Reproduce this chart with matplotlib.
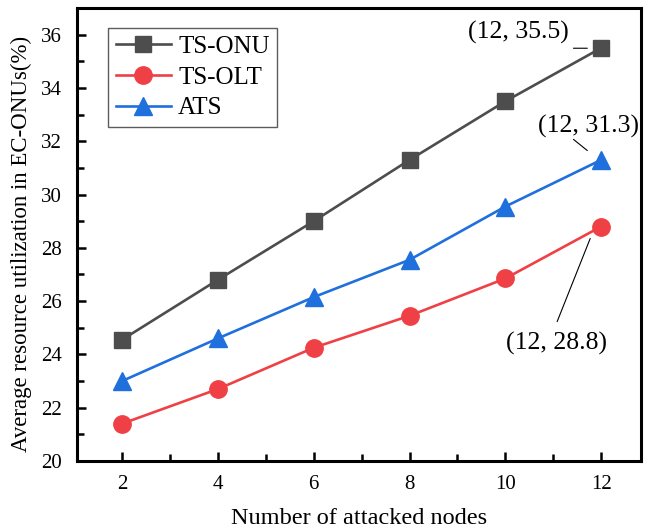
import matplotlib.pyplot as plt
from matplotlib.ticker import MultipleLocator

plt.rcParams['font.family'] = ['Liberation Serif', 'DejaVu Serif']

# Daten
nodes = [2, 4, 6, 8, 10, 12]
ts_onu = [24.55, 26.8, 29.0, 31.3, 33.5, 35.5]
ts_olt = [21.4, 22.7, 24.25, 25.45, 26.85, 28.8]
ats = [23.0, 24.6, 26.15, 27.55, 29.55, 31.3]

# Beschriftungen: Text, Textposition, Anfang und Ende der Hinweislinie
notes = [
    ('(12, 35.5)', (10.27, 36.1), (11.42, 35.49), (11.71, 35.49)),
    ('(12, 31.3)', (11.73, 32.56), (11.42, 32.07), (11.71, 31.65)),
    ('(12, 28.8)', (11.06, 24.4), (11.08, 25.23), (11.77, 28.35)),
]

fig = plt.figure(figsize=(6.56, 5.29), dpi=100)
ax = fig.add_axes([77 / 656, 1 - 461 / 529, (641 - 77) / 656, (461 - 8) / 529])

ax.plot(nodes, ts_onu, color='#4d4d4d', marker='s', markersize=12, lw=1.9, label='TS-ONU')
ax.plot(nodes, ts_olt, color='#ef4045', marker='o', markersize=12.5, lw=1.9, label='TS-OLT')
ax.plot(nodes, ats, color='#1f6fdc', marker='^', markersize=12.5, lw=1.9, label='ATS')

ax.set_xlim(1.06, 12.83)
ax.set_ylim(20, 37)
ax.xaxis.set_major_locator(MultipleLocator(2))
ax.xaxis.set_minor_locator(MultipleLocator(1))
ax.yaxis.set_major_locator(MultipleLocator(2))
ax.yaxis.set_minor_locator(MultipleLocator(1))
ax.tick_params(which='both', direction='in', width=1.8, labelsize=15)
ax.tick_params(which='major', length=6.5)
ax.tick_params(which='minor', length=5)
ax.tick_params(axis='x', pad=10)
ax.tick_params(axis='y', pad=11)
for s in ax.spines.values():
    s.set_linewidth(2.2)

ax.set_xlabel('Number of attacked nodes', fontsize=17.5, labelpad=10)
ax.set_ylabel('Average resource utilization in EC-ONUs(%)', fontsize=16.5, labelpad=6)
ax.yaxis.label.set_y(0.479)

for txt, pos, start, end in notes:
    ax.text(pos[0], pos[1], txt, fontsize=18.5, ha='center', va='center')
    ax.annotate('', xy=end, xytext=start,
                arrowprops=dict(arrowstyle='-', color='black', lw=0.8,
                                shrinkA=0, shrinkB=0))

leg = ax.legend(loc='upper left', bbox_to_anchor=(0.055, 0.956), borderaxespad=0,
                fontsize=18, frameon=True, fancybox=False, edgecolor='#333333',
                handlelength=2.2, borderpad=0.3, labelspacing=0.33, handletextpad=0.3)
leg.get_frame().set_linewidth(1.0)

fig.savefig('out.png', dpi=100)
